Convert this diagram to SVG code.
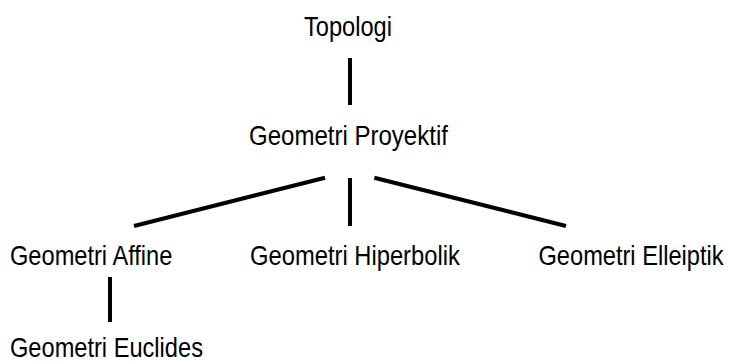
<svg xmlns="http://www.w3.org/2000/svg" width="729" height="362" viewBox="0 0 729 362">
<style>
text{font-family:"Liberation Sans",Arial,sans-serif;font-size:27px;fill:#000}
.c line{stroke:#000;stroke-width:4;stroke-linecap:butt}
</style>
<rect width="729" height="362" fill="#fff"/>
<g class="c" id="connectors">
<line x1="350" y1="58" x2="350" y2="105"/>
<line x1="325" y1="177.7" x2="134" y2="226"/>
<line x1="350" y1="178" x2="350" y2="226"/>
<line x1="374.3" y1="177.7" x2="566" y2="226"/>
<line x1="110" y1="277" x2="110" y2="322"/>
</g>
<g id="topologi"><text transform="translate(304,36) scale(0.875,1)">Topologi</text></g>
<g id="proyektif"><text transform="translate(249,145) scale(0.89,1)">Geometri Proyektif</text></g>
<g id="affine"><text transform="translate(10,265) scale(0.875,1)">Geometri Affine</text></g>
<g id="hiperbolik"><text transform="translate(250,265) scale(0.88,1)">Geometri Hiperbolik</text></g>
<g id="elleiptik"><text transform="translate(538.5,265) scale(0.875,1)">Geometri Elleiptik</text></g>
<g id="euclides"><text transform="translate(10,357) scale(0.875,1)">Geometri Euclides</text></g>
</svg>
